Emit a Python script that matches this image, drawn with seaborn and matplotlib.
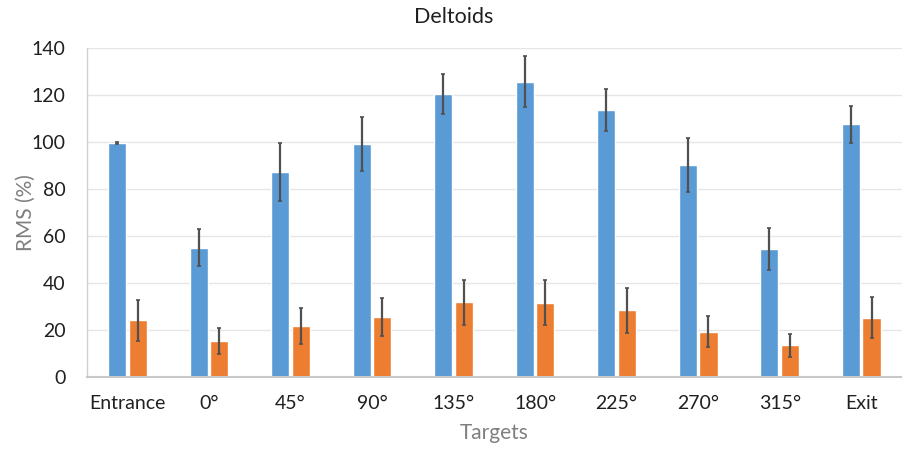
import numpy as np
import pandas as pd
import seaborn as sns
from matplotlib import pyplot as plt

# data
targets = ['Entrance', '0°', '45°', '90°', '135°', '180°', '225°', '270°', '315°', 'Exit']
blue_vals = [99.6, 55.0, 87.4, 99.3, 120.4, 125.8, 113.7, 90.4, 54.6, 107.6]
blue_err = [0.3, 7.9, 12.4, 11.4, 8.5, 11.0, 9.0, 11.5, 8.9, 7.9]
orange_vals = [24.2, 15.2, 21.7, 25.7, 31.8, 31.6, 28.4, 19.3, 13.5, 25.3]
orange_err = [8.7, 5.5, 7.6, 8.0, 9.7, 9.6, 9.7, 6.5, 4.8, 8.7]
series = ['Series1', 'Series2']

df = pd.DataFrame({
    'Targets': targets * 2,
    'RMS': blue_vals + orange_vals,
    'Series': [series[0]] * len(targets) + [series[1]] * len(targets),
})

sns.set_theme(style='white')
plt.rcParams['font.family'] = ['Lato', 'DejaVu Sans']

fig = plt.figure(figsize=(9.02, 4.5), dpi=100)
ax = fig.add_axes([0.096, 0.162, 0.904, 0.731])

sns.barplot(data=df, x='Targets', y='RMS', hue='Series', order=targets,
            palette=['#5B9BD5', '#ED7D31'], saturation=1, width=0.505, gap=0.12,
            errorbar=None, legend=False, ax=ax, zorder=2)

# error bars on top of the bars, using the bar positions seaborn gave
for cont, errs in zip(ax.containers, [blue_err, orange_err]):
    xs = [p.get_x() + p.get_width() / 2 for p in cont]
    hs = [p.get_height() for p in cont]
    ax.errorbar(xs, hs, yerr=errs, fmt='none', ecolor='#505050',
                elinewidth=1.6, capsize=1.5, capthick=1.2, zorder=3)

ax.set_ylim(0, 140)
ax.set_yticks(np.arange(0, 141, 20))
ax.set_xlim(-0.5, len(targets) - 0.5)
ax.grid(axis='y', color='#e6e6e6', linewidth=1, zorder=0)
ax.set_axisbelow(True)

for s in ['top', 'right']:
    ax.spines[s].set_visible(False)
ax.spines['left'].set_color('#d0d0d0')
ax.spines['left'].set_linewidth(1)
ax.spines['bottom'].set_color('#c8c8c8')
ax.spines['bottom'].set_linewidth(1.5)

ax.tick_params(axis='y', length=0, pad=15, labelsize=14, labelcolor='#202020')
ax.tick_params(axis='x', length=0, pad=13, labelsize=14, labelcolor='#202020')

ax.set_xlabel('Targets', fontsize=15, color='#7f7f7f', labelpad=8)
ax.set_ylabel('RMS (%)', fontsize=15, color='#7f7f7f', labelpad=-3)
fig.suptitle('Deltoids', fontsize=15.5, color='#202020', x=0.503, y=0.985)

fig.savefig('out.png', dpi=100)
